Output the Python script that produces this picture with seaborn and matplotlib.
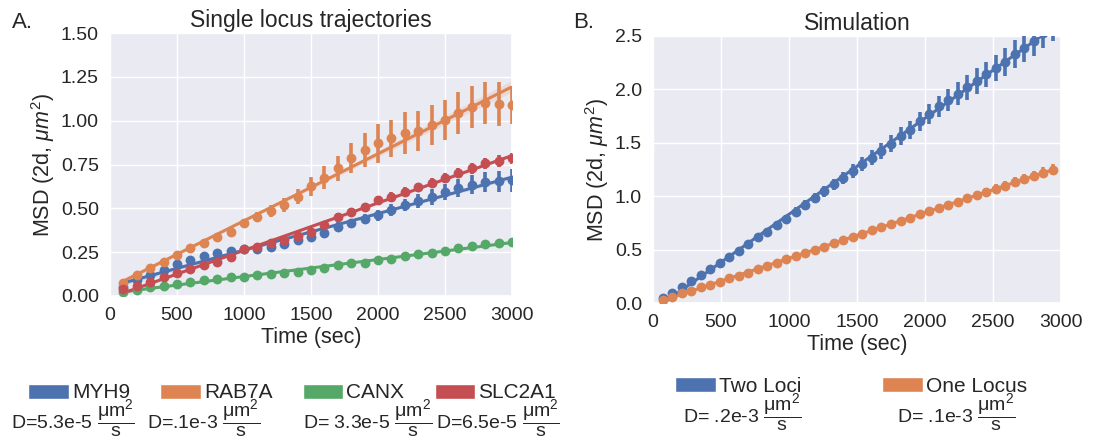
import numpy as np
import pandas as pd
import seaborn as sns
import matplotlib.pyplot as plt
from matplotlib.patches import Patch

# ---- data ----
time_a = [100, 200, 300, 400, 500, 600, 700, 800, 900, 1000,
          1100, 1200, 1300, 1400, 1500, 1600, 1700, 1800, 1900, 2000,
          2100, 2200, 2300, 2400, 2500, 2600, 2700, 2800, 2900, 3000]

myh9 = [0.05, 0.09, 0.12, 0.15, 0.18, 0.205, 0.23, 0.245, 0.258, 0.266,
        0.27, 0.28, 0.295, 0.32, 0.338, 0.357, 0.395, 0.414, 0.44, 0.46,
        0.49, 0.52, 0.54, 0.565, 0.595, 0.615, 0.635, 0.65, 0.655, 0.66]
myh9_err = [0.01, 0.01, 0.01, 0.012, 0.012, 0.012, 0.012, 0.012, 0.012, 0.012,
            0.015, 0.015, 0.018, 0.02, 0.022, 0.025, 0.025, 0.028, 0.03, 0.03,
            0.035, 0.035, 0.04, 0.045, 0.045, 0.05, 0.055, 0.057, 0.06, 0.065]

rab7a = [0.072, 0.12, 0.158, 0.196, 0.234, 0.272, 0.304, 0.338, 0.367, 0.415,
         0.452, 0.485, 0.519, 0.567, 0.625, 0.675, 0.728, 0.785, 0.833, 0.871,
         0.90, 0.928, 0.943, 0.975, 1.004, 1.046, 1.076, 1.099, 1.095, 1.09]
rab7a_err = [0.01, 0.012, 0.012, 0.015, 0.015, 0.015, 0.018, 0.018, 0.02, 0.022,
             0.028, 0.035, 0.04, 0.045, 0.055, 0.065, 0.071, 0.086, 0.095, 0.11,
             0.105, 0.12, 0.114, 0.115, 0.115, 0.12, 0.12, 0.119, 0.124, 0.11]

canx = [0.02, 0.034, 0.05, 0.057, 0.068, 0.082, 0.091, 0.097, 0.107, 0.11,
        0.12, 0.125, 0.129, 0.139, 0.148, 0.158, 0.175, 0.186, 0.19, 0.205,
        0.209, 0.228, 0.238, 0.243, 0.258, 0.272, 0.285, 0.297, 0.30, 0.31]
canx_err = [0.005, 0.005, 0.006, 0.006, 0.006, 0.007, 0.007, 0.007, 0.008, 0.008,
            0.008, 0.009, 0.009, 0.009, 0.01, 0.01, 0.01, 0.011, 0.011, 0.012,
            0.012, 0.012, 0.013, 0.013, 0.014, 0.014, 0.015, 0.015, 0.016, 0.016]

slc2a1 = [0.038, 0.057, 0.082, 0.107, 0.129, 0.152, 0.177, 0.196, 0.224, 0.266,
          0.281, 0.30, 0.32, 0.342, 0.367, 0.405, 0.452, 0.481, 0.51, 0.548,
          0.567, 0.595, 0.62, 0.646, 0.671, 0.70, 0.728, 0.757, 0.77, 0.785]
slc2a1_err = [0.008, 0.008, 0.009, 0.01, 0.01, 0.011, 0.012, 0.012, 0.013, 0.014,
              0.015, 0.015, 0.016, 0.017, 0.018, 0.019, 0.02, 0.021, 0.022, 0.023,
              0.024, 0.025, 0.026, 0.027, 0.028, 0.029, 0.03, 0.031, 0.032, 0.033]

time_b = [70, 140, 210, 280, 350, 420, 490, 560, 630, 700,
          770, 840, 910, 980, 1050, 1120, 1190, 1260, 1330, 1400,
          1470, 1540, 1610, 1680, 1750, 1820, 1890, 1960, 2030, 2100,
          2170, 2240, 2310, 2380, 2450, 2520, 2590, 2660, 2730, 2800,
          2870, 2940]

two_loci = [0.044, 0.097, 0.147, 0.206, 0.262, 0.315, 0.378, 0.434, 0.49, 0.552,
            0.615, 0.668, 0.73, 0.79, 0.855, 0.92, 0.98, 1.045, 1.11, 1.17,
            1.235, 1.30, 1.36, 1.42, 1.49, 1.56, 1.62, 1.70, 1.77, 1.84,
            1.90, 1.96, 2.02, 2.08, 2.14, 2.20, 2.26, 2.33, 2.39, 2.45,
            2.53, 2.60]
two_loci_err = [0.01, 0.01, 0.012, 0.015, 0.015, 0.018, 0.02, 0.022, 0.025, 0.028,
                0.03, 0.032, 0.035, 0.038, 0.04, 0.045, 0.048, 0.05, 0.055, 0.06,
                0.062, 0.065, 0.07, 0.075, 0.08, 0.085, 0.088, 0.09, 0.095, 0.1,
                0.105, 0.11, 0.115, 0.12, 0.12, 0.125, 0.13, 0.13, 0.135, 0.14,
                0.145, 0.15]

one_locus = [0.028, 0.06, 0.09, 0.115, 0.147, 0.168, 0.2, 0.231, 0.253, 0.284,
             0.315, 0.346, 0.378, 0.409, 0.44, 0.465, 0.496, 0.521, 0.559, 0.59,
             0.62, 0.65, 0.68, 0.71, 0.74, 0.77, 0.80, 0.83, 0.86, 0.89,
             0.92, 0.95, 0.98, 1.01, 1.04, 1.07, 1.10, 1.13, 1.16, 1.19,
             1.22, 1.25]
one_locus_err = [0.005, 0.006, 0.007, 0.008, 0.009, 0.01, 0.011, 0.012, 0.013, 0.014,
                 0.015, 0.016, 0.017, 0.018, 0.019, 0.02, 0.021, 0.022, 0.023, 0.024,
                 0.025, 0.026, 0.027, 0.028, 0.029, 0.03, 0.031, 0.032, 0.033, 0.034,
                 0.035, 0.036, 0.037, 0.038, 0.04, 0.042, 0.044, 0.046, 0.048, 0.05,
                 0.052, 0.055]

labels_a = ["MYH9", "RAB7A", "CANX", "SLC2A1"]
labels_b = ["Two Loci", "One Locus"]
unit = r"$\dfrac{\mathrm{\mu m^2}}{\mathrm{s}}$"
coef_a = ["D=5.3e-5 " + unit, "D=.1e-3 " + unit, "D= 3.3e-5 " + unit, "D=6.5e-5 " + unit]
coef_b = ["D= .2e-3 " + unit, "D= .1e-3 " + unit]

sns.set_theme(style="darkgrid", palette="deep")
plt.rcParams["font.family"] = ["Liberation Sans", "DejaVu Sans"]
plt.rcParams["mathtext.fontset"] = "custom"
plt.rcParams["mathtext.rm"] = "Liberation Sans"
plt.rcParams["mathtext.it"] = "Liberation Sans:italic"
plt.rcParams["mathtext.bf"] = "Liberation Sans:bold"
pal = sns.color_palette("deep")

W, H = 1107, 441
fig = plt.figure(figsize=(W / 100, H / 100), dpi=100)
ax_a = fig.add_axes([110 / W, 1 - 296 / H, 402 / W, 263 / H])
ax_b = fig.add_axes([653 / W, 1 - 303 / H, 408 / W, 267 / H])


def draw(ax, x, ys, errs):
    for i, (y, e) in enumerate(zip(ys, errs)):
        df = pd.DataFrame({"t": x, "msd": y, "err": e})
        c = pal[i]
        sns.regplot(data=df, x="t", y="msd", scatter=False, ax=ax, color=c,
                    seed=0, line_kws={"lw": 2.2})
        ax.errorbar(df["t"], df["msd"], yerr=df["err"], fmt="none",
                    ecolor=c, elinewidth=2.6, capsize=0, zorder=3)
        sns.scatterplot(data=df, x="t", y="msd", ax=ax, color=c, s=50,
                        linewidth=0, zorder=4)


draw(ax_a, time_a, [myh9, rab7a, canx, slc2a1],
     [myh9_err, rab7a_err, canx_err, slc2a1_err])
draw(ax_b, time_b, [two_loci, one_locus], [two_loci_err, one_locus_err])

for ax, top, step, title in [(ax_a, 1.5, 0.25, "Single locus trajectories"),
                             (ax_b, 2.5, 0.5, "Simulation")]:
    ax.set_xlim(0, 3000)
    ax.set_ylim(0, top)
    ax.set_xticks(np.arange(0, 3001, 500))
    ax.set_yticks(np.arange(0, top + 0.001, step))
    ax.tick_params(labelsize=14, pad=2)
    ax.set_xlabel("Time (sec)", fontsize=15.5, labelpad=2)
    ax.set_ylabel(r"MSD (2d, $\mu m^2$)", fontsize=15.5, labelpad=3)
    ax.set_title(title, fontsize=16.5, pad=4)
ax_a.yaxis.set_major_formatter(plt.FormatStrFormatter("%.2f"))
ax_b.yaxis.set_major_formatter(plt.FormatStrFormatter("%.1f"))

fig.text(12 / W, 1 - 23 / H, "A.", fontsize=16, va="center")
fig.text(573 / W, 1 - 23 / H, "B.", fontsize=16, va="center")

leg_kw = dict(frameon=False, fontsize=15, handlelength=1.95, handleheight=0.7,
              handletextpad=0.15, borderpad=0, borderaxespad=0, loc="center left")
fig.legend([Patch(facecolor=pal[i]) for i in range(4)], labels_a, ncol=4,
           columnspacing=1.45, bbox_to_anchor=(28 / W, 1 - 393 / H), **leg_kw)
fig.legend([Patch(facecolor=pal[i]) for i in range(2)], labels_b, ncol=2,
           columnspacing=3.9, bbox_to_anchor=(675 / W, 1 - 386 / H), **leg_kw)

for xp, s in zip([11, 147, 303, 436], coef_a):
    fig.text(xp / W, 1 - 418 / H, s, fontsize=14, va="center")
for xp, s in zip([683, 897], coef_b):
    fig.text(xp / W, 1 - 412 / H, s, fontsize=14, va="center")

fig.savefig("out.png", dpi=100)
